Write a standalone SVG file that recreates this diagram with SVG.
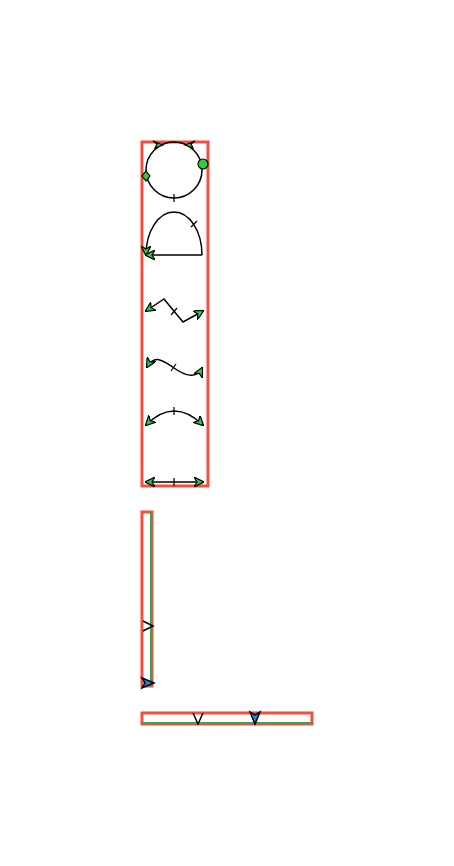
<svg xmlns="http://www.w3.org/2000/svg" width="454" height="866" viewBox="0 0 454 866">
<defs>
<style>
.frame{fill:none;stroke:#f44336;stroke-width:3;opacity:0.95}
.edge{fill:none;stroke:#000;stroke-width:1.5}
.tick{stroke:#000;stroke-width:1.2}
.g{fill:#2ecc40;stroke:#000;stroke-width:1.2}
</style>
<marker id="ag" viewBox="0 0 10 10" refX="9" refY="5" markerWidth="10" markerHeight="10" markerUnits="userSpaceOnUse" orient="auto-start-reverse">
<path d="M0,0 L10,5 L0,10 L3,5 Z" fill="#2ecc40" stroke="#000" stroke-width="1.2"/>
</marker>
</defs>
<g id="frame1"><rect class="frame" x="142" y="142" width="66" height="344"/></g>
<g id="frame2"><rect class="frame" x="142" y="512" width="10" height="174"/></g>
<g id="frame3"><rect class="frame" x="142" y="713" width="170" height="11"/></g>
<g id="connectors">
<circle class="edge" cx="174" cy="170" r="28"/>
<path d="M153,141 L163,145 L155,148 L157,144 Z" class="g"/>
<path d="M195,141 L185,145 L193,148 L191,144 Z" class="g"/>
<circle cx="203" cy="164" r="5" class="g"/>
<path d="M146,171 L150,176 L146,181 L142,176 Z" class="g"/>
<line class="tick" x1="174" y1="194" x2="174" y2="202"/>
<path class="edge" d="M202,255 A28,43 0 0 0 146,255" marker-end="url(#ag)"/>
<path class="edge" d="M202,255 L146,255" marker-end="url(#ag)"/>
<line class="tick" x1="191" y1="227" x2="197" y2="221"/>
<path class="edge" d="M146,311 L164,299 L183,322 L203,311" marker-start="url(#ag)" marker-end="url(#ag)"/>
<line class="tick" x1="171" y1="315" x2="177" y2="308"/>
<path class="edge" d="M147,367 C155,353 165,362 174,368 C184,375 196,380 202,368" marker-start="url(#ag)" marker-end="url(#ag)"/>
<line class="tick" x1="171" y1="371" x2="176" y2="364"/>
<path class="edge" d="M146,425 Q174,397 203,425" marker-start="url(#ag)" marker-end="url(#ag)"/>
<line class="tick" x1="174" y1="407" x2="174" y2="415"/>
<path class="edge" d="M146,482 L203,482" marker-start="url(#ag)" marker-end="url(#ag)"/>
<line class="tick" x1="174" y1="478" x2="174" y2="486"/>
<line x1="151" y1="512" x2="151" y2="686" stroke="#43a047" stroke-width="2"/>
<path d="M143,621 L153,626 L143,631" fill="none" stroke="#000" stroke-width="1.5"/>
<path d="M142,678 L154,683 L142,688 L145,683 Z" fill="#1e88e5" stroke="#000" stroke-width="1.5"/>
<line x1="142" y1="723" x2="312" y2="723" stroke="#43a047" stroke-width="2"/>
<path d="M193,713 L198,724 L203,713" fill="none" stroke="#000" stroke-width="1.5"/>
<path d="M250,712 L255,724 L260,712 L255,715 Z" fill="#1e88e5" stroke="#000" stroke-width="1.5"/>
</g>
</svg>
